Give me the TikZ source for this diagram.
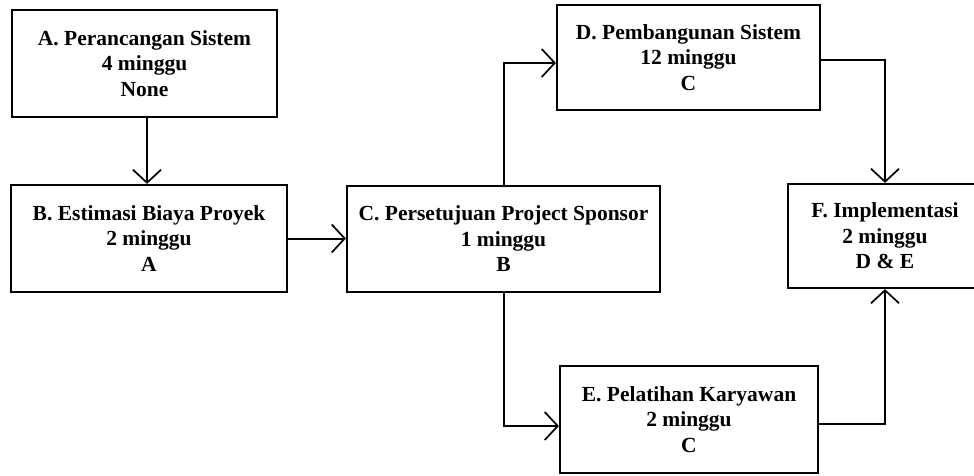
\documentclass[tikz,border=0pt]{standalone}
\usepackage{fontspec}
\setmainfont{Liberation Serif}
\usetikzlibrary{arrows.meta}
\begin{document}
\begin{tikzpicture}[x=1pt,y=-1pt,
  box/.style={draw=black, line width=2.2pt, fill=white, rectangle, inner sep=0pt,
    align=center, font=\fontsize{21.5}{25.5}\selectfont\bfseries},
  arr/.style={line width=2pt, -{Straight Barb[length=13pt,width=28pt,line width=1.7pt]}}]
\useasboundingbox (0,0) rectangle (974,476);
\clip (0,0) rectangle (974,476);
\fill[white] (0,0) rectangle (974,476);
\node[box, minimum width=265pt, minimum height=107pt] (A) at (144.5,63.5)
  {A. Perancangan Sistem\\4 minggu\\None};
\node[box, minimum width=276pt, minimum height=107pt] (B) at (149,238.5)
  {B. Estimasi Biaya Proyek\\2 minggu\\A};
\node[box, minimum width=313pt, minimum height=106pt] (C) at (503.5,239)
  {C. Persetujuan Project Sponsor\\1 minggu\\B};
\node[box, minimum width=263pt, minimum height=105pt] (D) at (688.5,57.5)
  {D. Pembangunan Sistem\\12 minggu\\C};
\node[box, minimum width=258pt, minimum height=107pt] (E) at (689,419.5)
  {E. Pelatihan Karyawan\\2 minggu\\C};
\node[box, minimum width=194pt, minimum height=104pt] (F) at (885,236)
  {F. Implementasi\\2 minggu\\D \& E};
\draw[arr] ([xshift=2.5pt]A.south) -- ([xshift=2.5pt]A.south |- B.north);
\draw[arr] (B.east) -- (B.east -| C.west);
\draw[arr] (C.north) |- ([yshift=-5.5pt]D.west);
\draw[arr] (C.south) |- ([yshift=-6.5pt]E.west);
\draw[arr] ([yshift=-2.5pt]D.east) -| (F.north);
\draw[arr] ([yshift=-4.5pt]E.east) -| (F.south);
\end{tikzpicture}
\end{document}
